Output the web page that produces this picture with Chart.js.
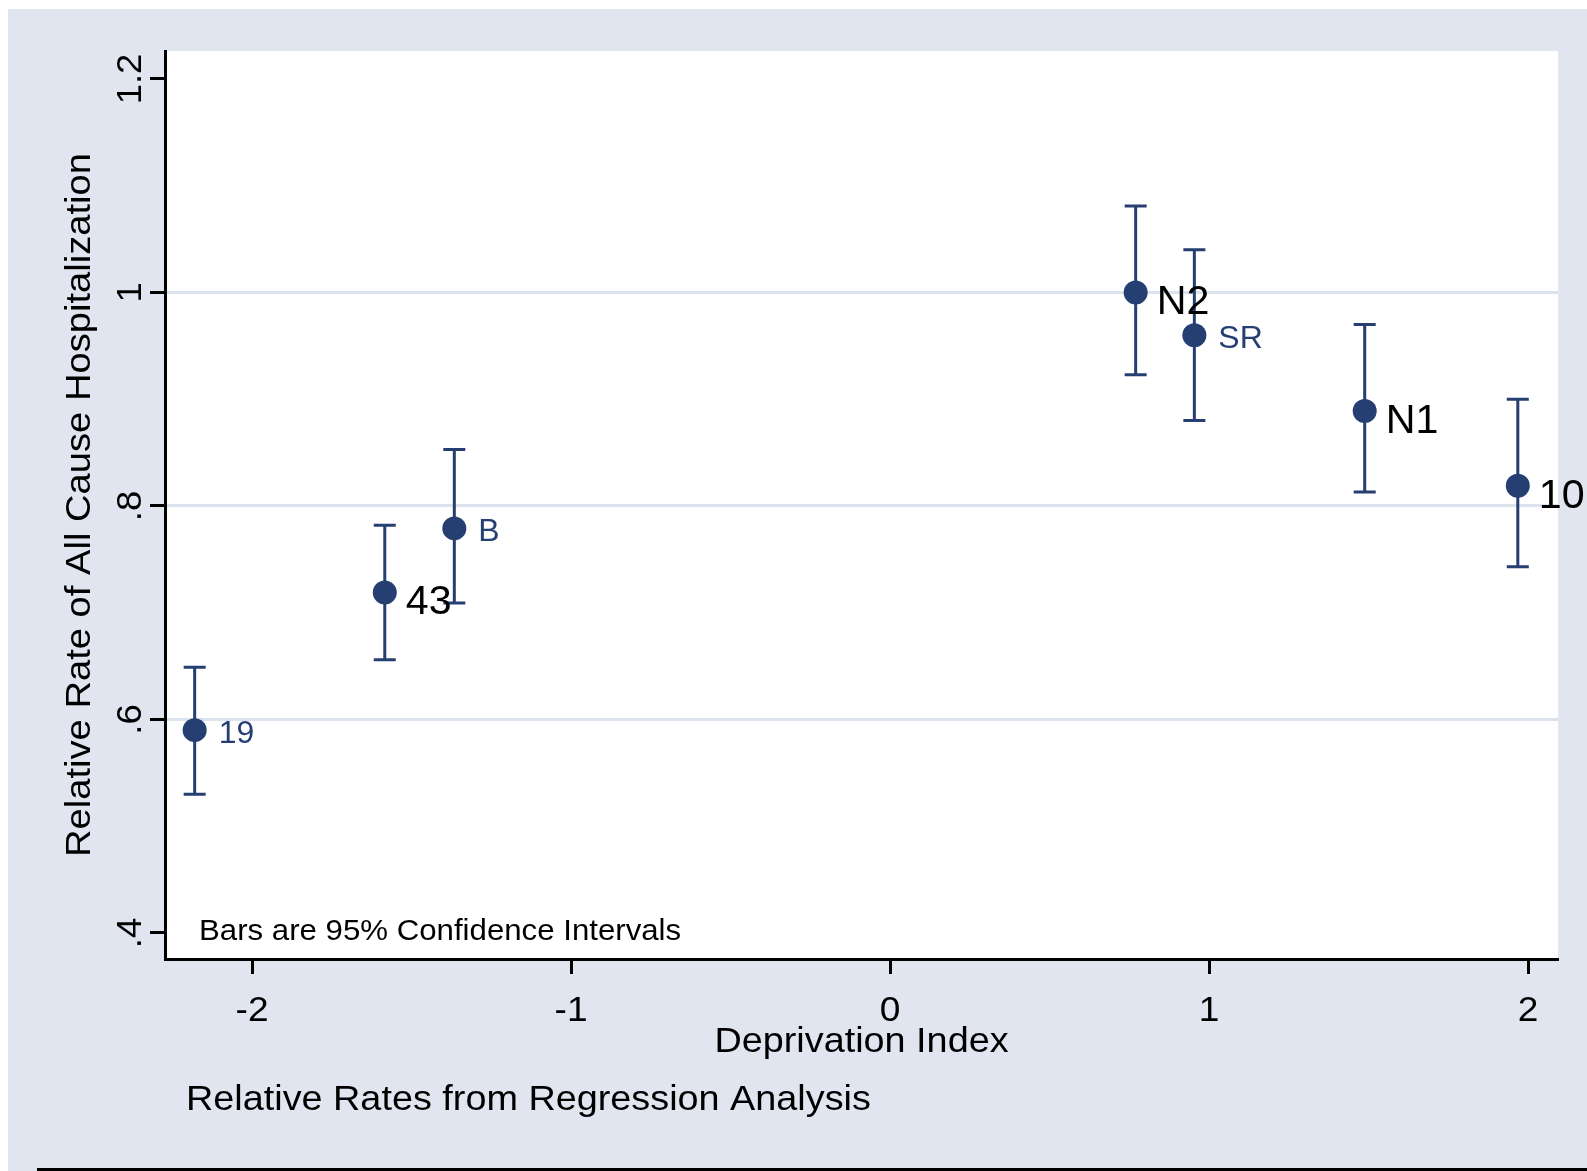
<!DOCTYPE html>
<html>
<head>
<meta charset="utf-8">
<script src="https://cdn.jsdelivr.net/npm/chart.js@4.4.1/dist/chart.umd.min.js"></script>
<style>
    html, body { margin: 0; padding: 0; background: #ffffff; }
    #wrap { width: 1587px; height: 1171px; }
</style>
</head>
<body>
<div id="wrap"><canvas id="rrChart" width="1587" height="1171"></canvas></div>
<script>
// areas with blue labels
const blueLabels = ['19', 'B', 'SR'];
const blueDeprivation = [-2.18, -1.366, 0.954];
const blueRate = [0.59, 0.779, 0.960];
const blueLower = [0.530, 0.709, 0.880];
const blueUpper = [0.649, 0.853, 1.040];

// areas with black labels
const blackLabels = ['43', 'N2', 'N1', '10'];
const blackDeprivation = [-1.584, 0.77, 1.488, 1.968];
const blackRate = [0.719, 1.0, 0.889, 0.819];
const blackLower = [0.656, 0.923, 0.813, 0.743];
const blackUpper = [0.782, 1.081, 0.970, 0.900];

// axes
const xTicks = [-2, -1, 0, 1, 2];
const xTickLabels = ['-2', '-1', '0', '1', '2'];
const yTicks = [0.4, 0.6, 0.8, 1.0, 1.2];
const yTickLabels = ['.4', '.6', '.8', '1', '1.2'];

const NAVY = '#263f72';
const FONT = '"Liberation Sans", Arial, Helvetica, sans-serif';

function toPoints(xs, ys) {
    return xs.map((x, i) => ({ x: x, y: ys[i] }));
}

// texto esticado na horizontal (a fonte do original é mais larga)
function wideText(ctx, text, x, y, align, sx, angle) {
    ctx.save();
    ctx.translate(x, y);
    if (angle) ctx.rotate(angle);
    ctx.scale(sx, 1);
    ctx.textAlign = align;
    ctx.textBaseline = 'alphabetic';
    ctx.fillText(text, 0, 0);
    ctx.restore();
}

// Desenha fundo, barras de erro, rótulos e textos
const extrasPlugin = {
    id: 'extras',
    beforeDraw(chart) {
        const ctx = chart.ctx;
        const a = chart.chartArea;
        ctx.save();
        ctx.fillStyle = '#ffffff';
        ctx.fillRect(0, 0, chart.width, chart.height);
        ctx.fillStyle = '#e0e5f0';
        ctx.fillRect(8, 9, chart.width - 8, chart.height - 9);
        ctx.fillStyle = '#ffffff';
        ctx.fillRect(a.left, a.top, a.right - a.left, a.bottom - a.top);
        ctx.restore();
    },
    beforeDatasetsDraw(chart) {
        const ctx = chart.ctx;
        const yScale = chart.scales.y;
        ctx.save();
        ctx.strokeStyle = NAVY;
        ctx.lineWidth = 3;
        chart.data.datasets.forEach((ds, i) => {
            const meta = chart.getDatasetMeta(i);
            meta.data.forEach((pt, j) => {
                const yLo = yScale.getPixelForValue(ds.ciLower[j]);
                const yHi = yScale.getPixelForValue(ds.ciUpper[j]);
                ctx.beginPath();
                ctx.moveTo(pt.x, yLo);
                ctx.lineTo(pt.x, yHi);
                ctx.moveTo(pt.x - 11, yLo);
                ctx.lineTo(pt.x + 11, yLo);
                ctx.moveTo(pt.x - 11, yHi);
                ctx.lineTo(pt.x + 11, yHi);
                ctx.stroke();
            });
        });
        ctx.restore();
    },
    afterDatasetsDraw(chart) {
        const ctx = chart.ctx;
        ctx.save();
        chart.data.datasets.forEach((ds, i) => {
            const meta = chart.getDatasetMeta(i);
            ctx.fillStyle = ds.labelColor;
            ctx.font = ds.labelSize + 'px ' + FONT;
            meta.data.forEach((pt, j) => {
                wideText(ctx, ds.pointNames[j], pt.x + ds.labelGap, pt.y + ds.labelDrop, 'left', 1.03);
            });
        });
        ctx.restore();
    },
    afterDraw(chart) {
        const ctx = chart.ctx;
        const a = chart.chartArea;
        const xScale = chart.scales.x;
        const yScale = chart.scales.y;
        ctx.save();
        ctx.fillStyle = '#000000';

        // rótulos do eixo x
        ctx.font = '35px ' + FONT;
        xTicks.forEach((v, i) => {
            wideText(ctx, xTickLabels[i], xScale.getPixelForValue(v), 1021, 'center', 1.06);
        });
        wideText(ctx, 'Deprivation Index', (a.left + a.right) / 2, 1052, 'center', 1.08);

        // rótulos do eixo y (girados)
        yTicks.forEach((v, i) => {
            wideText(ctx, yTickLabels[i], 141, yScale.getPixelForValue(v), 'center', 1.04, -Math.PI / 2);
        });
        wideText(ctx, 'Relative Rate of All Cause Hospitalization', 90, (a.top + a.bottom) / 2, 'center', 1.09, -Math.PI / 2);

        // notas
        ctx.font = '30px ' + FONT;
        wideText(ctx, 'Bars are 95% Confidence Intervals', 199, 940, 'left', 1.04);
        ctx.font = '35px ' + FONT;
        wideText(ctx, 'Relative Rates from Regression Analysis', 186, 1110, 'left', 1.08);

        // linha inferior
        ctx.fillRect(37, 1168, chart.width - 37, 3);
        ctx.restore();
    }
};

const ctx = document.getElementById('rrChart').getContext('2d');
new Chart(ctx, {
    type: 'scatter',
    data: {
        datasets: [{
            label: 'Blue labels',
            data: toPoints(blueDeprivation, blueRate),
            pointNames: blueLabels,
            ciLower: blueLower,
            ciUpper: blueUpper,
            labelColor: NAVY,
            labelSize: 31,
            labelGap: 24,
            labelDrop: 13,
            backgroundColor: NAVY,
            borderWidth: 0,
            pointRadius: 12
        }, {
            label: 'Black labels',
            data: toPoints(blackDeprivation, blackRate),
            pointNames: blackLabels,
            ciLower: blackLower,
            ciUpper: blackUpper,
            labelColor: '#000000',
            labelSize: 40,
            labelGap: 21,
            labelDrop: 22,
            backgroundColor: NAVY,
            borderWidth: 0,
            pointRadius: 12
        }]
    },
    options: {
        responsive: false,
        animation: false,
        devicePixelRatio: 1,
        events: [],
        layout: {
            padding: { left: 150, top: 51, right: 29, bottom: 197 }
        },
        plugins: {
            legend: { display: false },
            tooltip: { enabled: false }
        },
        scales: {
            x: {
                type: 'linear',
                min: -2.273,
                max: 2.094,
                afterBuildTicks: scale => { scale.ticks = xTicks.map(v => ({ value: v })); },
                ticks: { display: false },
                grid: {
                    drawOnChartArea: false,
                    drawTicks: true,
                    tickLength: 15,
                    tickWidth: 3,
                    tickColor: '#000000'
                },
                border: { color: '#000000', width: 3 }
            },
            y: {
                type: 'linear',
                min: 0.3756,
                max: 1.2262,
                afterBuildTicks: scale => { scale.ticks = yTicks.map(v => ({ value: v })); },
                ticks: { display: false },
                grid: {
                    color: c => (c.tick && (c.tick.value === 0.4 || c.tick.value === 1.2)) ? 'rgba(0,0,0,0)' : '#dde3ee',
                    lineWidth: 3,
                    drawTicks: true,
                    tickLength: 15,
                    tickWidth: 3,
                    tickColor: '#000000'
                },
                border: { color: '#000000', width: 3 }
            }
        }
    },
    plugins: [extrasPlugin]
});
</script>
</body>
</html>
